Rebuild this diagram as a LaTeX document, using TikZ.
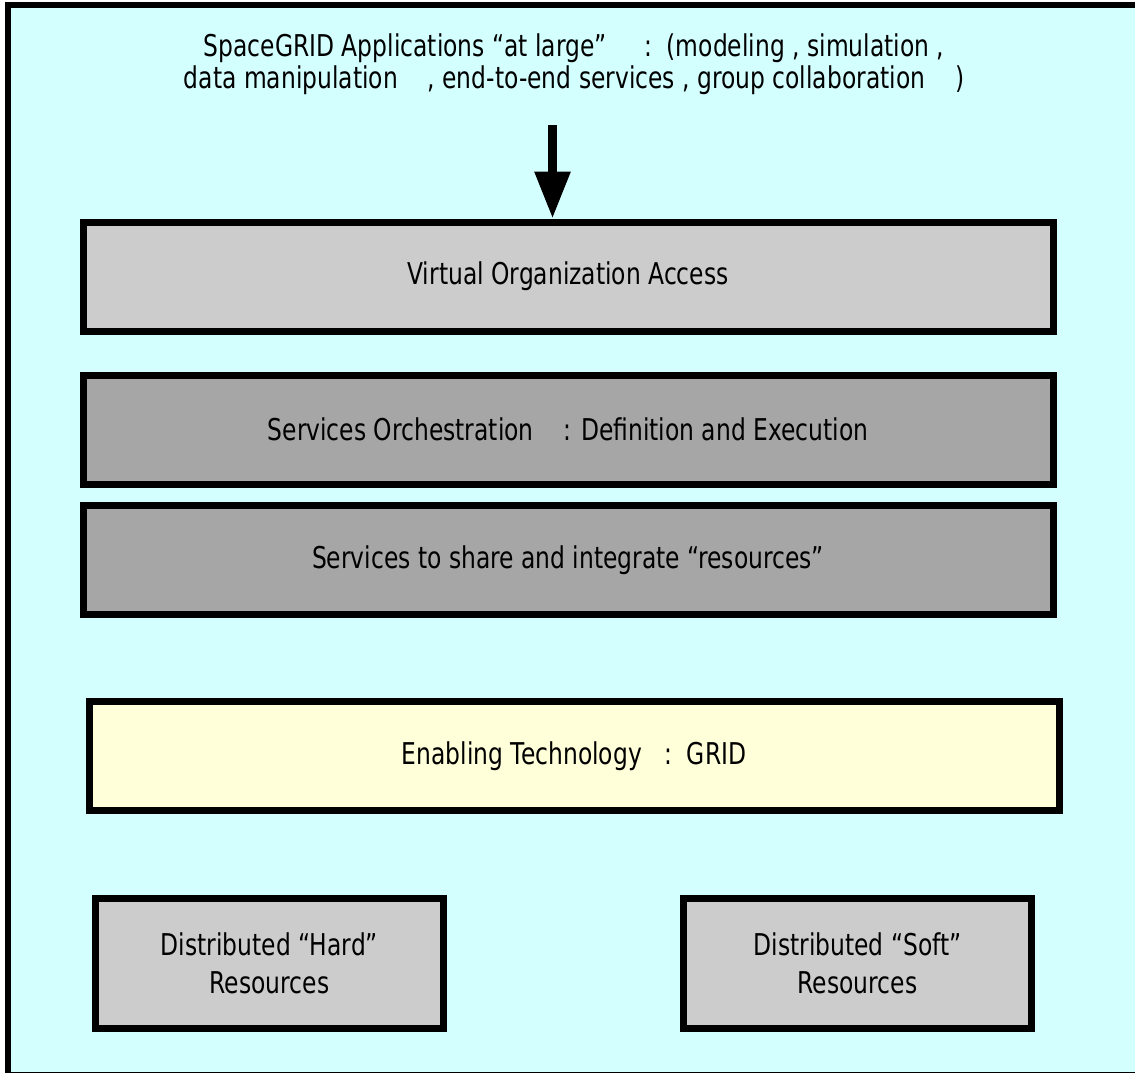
\documentclass[tikz,border=0pt]{standalone}
\usepackage{fontspec}
\setmainfont{DejaVu Sans}[FakeStretch=0.78]
\usetikzlibrary{arrows.meta}

\definecolor{skybg}{RGB}{212,255,255}
\definecolor{lightlayer}{RGB}{204,204,204}
\definecolor{darklayer}{RGB}{166,166,166}
\definecolor{gridlayer}{RGB}{255,255,217}

\begin{document}
\begin{tikzpicture}[x=1pt,y=-1pt,
        layer/.style={draw=black, line width=7pt, inner sep=0pt, align=center,
            font=\fontsize{30}{38}\selectfont},
        widelayer/.style={layer, minimum width=970pt, minimum height=109pt},
        resbox/.style={layer, minimum width=348pt, minimum height=130pt}]
    \useasboundingbox (0,0) rectangle (1135,1072);
    \clip (0,0) rectangle (1135,1072);

    % frame
    \draw[line width=6pt, fill=skybg] (8,5) rectangle (1170,1075);

    % applications on top
    \node[font=\fontsize{30}{32}\selectfont, align=center] (apps) at (574,64)
        {SpaceGRID Applications “at large”\ \ \ \ \ :\ \ (modeling , simulation ,\\
         data manipulation\ \ \ \ , end-to-end services\ , group collaboration\ \ \ \ )};

    % layers
    \node[widelayer, fill=lightlayer] (vo) at (568,276.5) {Virtual Organization Access};
    \node[widelayer, fill=darklayer] (orch) at (568,429.5)
        {Services Orchestration\ \ \ \ : Definition and Execution};
    \node[widelayer, fill=darklayer] (share) at (568,560)
        {Services to share and integrate “resources”};
    \node[widelayer, fill=gridlayer] (grid) at (574,756) {Enabling Technology\ \ \ :\ \ GRID};

    % resources
    \node[resbox, fill=lightlayer] (hard) at (269.5,963.5) {Distributed “Hard”\\Resources};
    \node[resbox, fill=lightlayer] (soft) at (857.5,963.5) {Distributed “Soft”\\Resources};

    % arrow into the access layer
    \coordinate (arrtop) at (552.5,125);
    \draw[line width=9pt, -{Triangle[length=47pt, width=34pt]}]
        (arrtop) -- (arrtop |- vo.north);
\end{tikzpicture}
\end{document}
